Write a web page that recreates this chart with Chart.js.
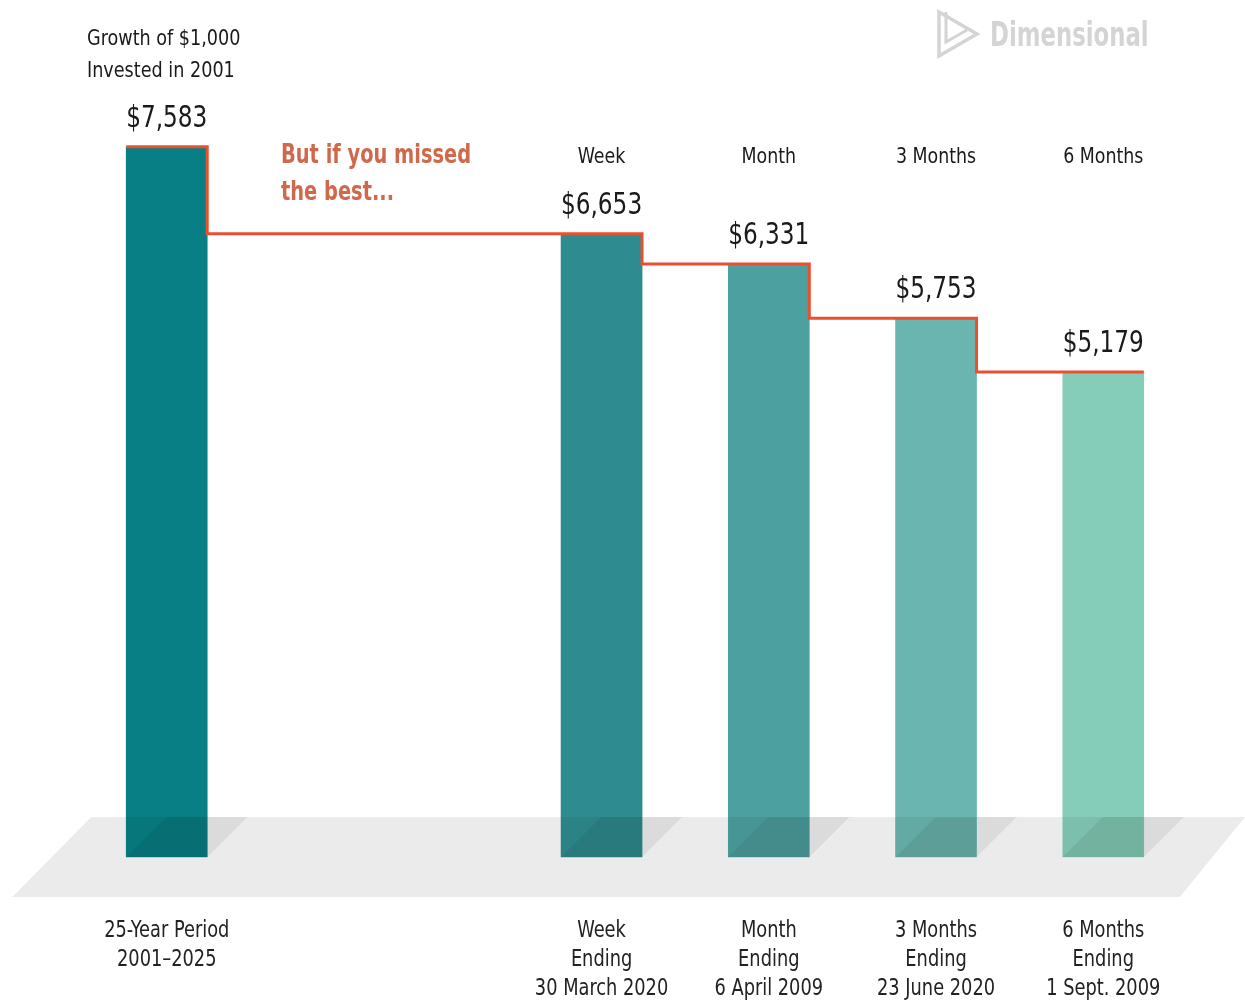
<!DOCTYPE html>
<html><head><meta charset="utf-8">
<script src="https://cdn.jsdelivr.net/npm/chart.js@4"></script>
<style>html,body{margin:0;padding:0;background:#fff;}#wrap{width:1245px;height:1000px;position:relative}</style>
</head><body><div id="wrap"><canvas id="c" width="1245" height="1000"></canvas></div>
<script>
const FONT = "'Liberation Sans Narrow','DejaVu Sans Condensed','Arial Narrow',sans-serif";
const periods = ["25-Year Period", "Week", "Month", "3 Months", "6 Months"];
const axisLabels = [
  ["25-Year Period", "2001–2025"],
  ["Week", "Ending", "30 March 2020"],
  ["Month", "Ending", "6 April 2009"],
  ["3 Months", "Ending", "23 June 2020"],
  ["6 Months", "Ending", "1 Sept. 2009"]
];
const values = [7583, 6653, 6331, 5753, 5179];
const headers = ["", "Week", "Month", "3 Months", "6 Months"];
const valueLabels = ["$7,583", "$6,653", "$6,331", "$5,753", "$5,179"];
const barColors = ["#077F84", "#2E8C90", "#4CA1A0", "#6AB5B0", "#85CDB8"];
const titleLines = ["Growth of $1,000", "Invested in 2001"];
const calloutLines = ["But if you missed", "the best..."];
const brand = "Dimensional";

// layout only: slot of each bar on a fine category axis (blank slots make the gap)
const slots = [0, 13, 18, 23, 28];
const nSlots = 29;

const labels = [], data = [], colors = [];
for (let s = 0; s < nSlots; s++) {
  const i = slots.indexOf(s);
  labels.push(i >= 0 ? axisLabels[i] : "");
  data.push(i >= 0 ? values[i] : null);
  colors.push(i >= 0 ? barColors[i] : "rgba(0,0,0,0)");
}

// condensed rendering: compress text horizontally (the installed condensed face is wider than the original)
const canvas = document.getElementById('c');
const ctx0 = canvas.getContext('2d');
const NARROW = 0.86;
const origFill = ctx0.fillText.bind(ctx0);
ctx0.fillText = function (t, x, y, mw) {
  const w = ctx0.measureText(t).width;
  const m = (mw === undefined || mw === null || isNaN(mw)) ? w * NARROW : mw;
  origFill(t, x, y, m);
};
function narrowText(ctx, t, x, y, f) {
  ctx.fillText(t, x, y, ctx.measureText(t).width * f);
}

const DEPTH = 40;
const deco = {
  id: 'deco',
  bars(chart) {
    const meta = chart.getDatasetMeta(0);
    return slots.map(s => {
      const e = meta.data[s];
      const w = e.width;
      return {x: e.x, top: e.y, base: e.base, L: e.x - w / 2, R: e.x + w / 2};
    });
  },
  beforeDatasetsDraw(chart) {
    const ctx = chart.ctx;
    const b = this.bars(chart);
    const bottom = chart.scales.y.getPixelForValue(0);
    ctx.save();
    ctx.fillStyle = '#EBEBEB';
    ctx.beginPath();
    ctx.moveTo(b[0].L - 35, bottom - DEPTH);
    ctx.lineTo(chart.width, bottom - DEPTH);
    ctx.lineTo(b[b.length - 1].R + 36, bottom + DEPTH);
    ctx.lineTo(b[0].L - 114, bottom + DEPTH);
    ctx.closePath();
    ctx.fill();
    ctx.restore();
  },
  afterDatasetsDraw(chart) {
    const ctx = chart.ctx;
    const b = this.bars(chart);
    const bottom = chart.scales.y.getPixelForValue(0);
    ctx.save();
    ctx.globalCompositeOperation = 'multiply';
    b.forEach(r => {
      ctx.fillStyle = '#EEEEEE';
      ctx.fillRect(r.L, bottom - DEPTH, r.R - r.L, DEPTH);
      ctx.beginPath();
      ctx.moveTo(r.L + DEPTH, bottom - DEPTH);
      ctx.lineTo(r.R + DEPTH, bottom - DEPTH);
      ctx.lineTo(r.R, bottom);
      ctx.lineTo(r.L, bottom);
      ctx.closePath();
      ctx.fill();
    });
    ctx.restore();

    // stepped red line
    ctx.save();
    ctx.strokeStyle = '#E9502F';
    ctx.lineWidth = 3;
    ctx.lineJoin = 'miter';
    ctx.beginPath();
    ctx.moveTo(b[0].L, b[0].top);
    ctx.lineTo(b[0].R, b[0].top);
    for (let i = 1; i < b.length; i++) {
      ctx.lineTo(b[i - 1].R, b[i].top);
      ctx.lineTo(b[i].R, b[i].top);
    }
    ctx.stroke();
    ctx.restore();

    // texts
    ctx.save();
    ctx.textAlign = 'center';
    ctx.textBaseline = 'alphabetic';
    ctx.fillStyle = '#1A1A1A';
    ctx.font = '30px ' + FONT;
    b.forEach((r, i) => narrowText(ctx, valueLabels[i], r.x, r.top - 20, 0.86));
    ctx.font = '22px ' + FONT;
    b.forEach((r, i) => { if (headers[i]) narrowText(ctx, headers[i], r.x, 163, 0.88); });
    ctx.textAlign = 'left';
    titleLines.forEach((t, i) => narrowText(ctx, t, 87, 45 + i * 32, 0.89));
    ctx.fillStyle = '#D0694C';
    ctx.font = 'bold 26px ' + FONT;
    calloutLines.forEach((t, i) => narrowText(ctx, t, 281, 163 + i * 37, 0.83));
    // brand
    ctx.fillStyle = '#D4D4D4';
    ctx.font = 'bold 34px ' + FONT;
    narrowText(ctx, brand, 990, 46, 0.745);
    ctx.strokeStyle = '#D4D4D4';
    ctx.lineWidth = 3.5;
    ctx.lineJoin = 'miter';
    ctx.beginPath();
    ctx.moveTo(939, 12); ctx.lineTo(977, 34); ctx.lineTo(939, 56); ctx.closePath();
    ctx.stroke();
    ctx.lineWidth = 3;
    ctx.beginPath();
    ctx.moveTo(946, 12); ctx.lineTo(946, 42); ctx.lineTo(967, 30);
    ctx.stroke();
    ctx.restore();
  }
};

new Chart(canvas, {
  type: 'bar',
  data: {labels, datasets: [{data, backgroundColor: colors, borderWidth: 0, barThickness: 81, clip: false}]},
  options: {
    responsive: false, animation: false, devicePixelRatio: 1,
    layout: {padding: {left: 150, right: 125, top: 0, bottom: 0}},
    plugins: {legend: {display: false}, tooltip: {enabled: false}, title: {display: false}},
    scales: {
      x: {
        offset: true,
        grid: {display: false, drawTicks: false},
        border: {display: false},
        ticks: {autoSkip: false, maxRotation: 0, minRotation: 0, padding: 60, color: '#222',
                font: {family: FONT, size: 23, lineHeight: '29px'}},
        afterFit(s) { s.height = 143; }
      },
      y: {display: false, min: 0, max: 9150}
    }
  },
  plugins: [deco]
});
</script></body></html>
